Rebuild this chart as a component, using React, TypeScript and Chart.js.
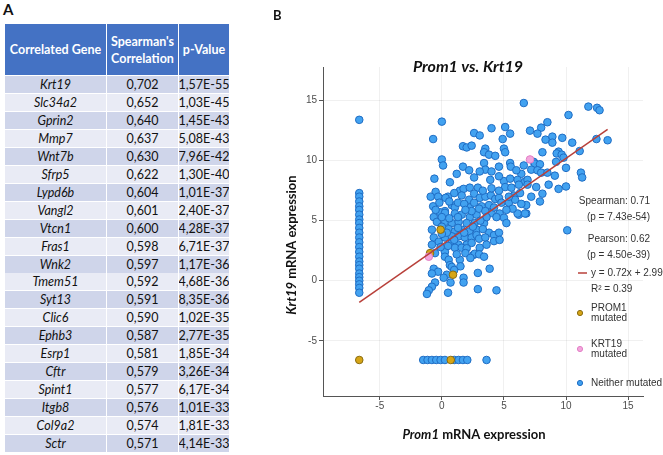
import React, { useEffect, useRef } from "react";
import { Chart, registerables } from "chart.js";
Chart.register(...registerables);

// ---------- Panel A data ----------
const genes = ["Krt19", "Slc34a2", "Gprin2", "Mmp7", "Wnt7b", "Sfrp5", "Lypd6b", "Vangl2", "Vtcn1", "Fras1", "Wnk2", "Tmem51", "Syt13", "Clic6", "Ephb3", "Esrp1", "Cftr", "Spint1", "Itgb8", "Col9a2", "Sctr"];
const spearmanValues = ["0,702", "0,652", "0,640", "0,637", "0,630", "0,622", "0,604", "0,601", "0,600", "0,598", "0,597", "0,592", "0,591", "0,590", "0,587", "0,581", "0,579", "0,577", "0,576", "0,574", "0,571"];
const pValues = ["1,57E-55", "1,03E-45", "1,45E-43", "5,08E-43", "7,96E-42", "1,30E-40", "1,01E-37", "2,40E-37", "4,28E-37", "6,71E-37", "1,17E-36", "4,68E-36", "8,35E-36", "1,02E-35", "2,77E-35", "1,85E-34", "3,26E-34", "6,17E-34", "1,01E-33", "1,81E-33", "4,14E-33"];
const tableHeaders = ["Correlated Gene", "Spearman's\nCorrelation", "p-Value"];

// ---------- Panel B data ----------
const neitherColumn: [number, number][] = [
  [-6.65, 13.4], [-6.65, 7.3], [-6.65, 7.0], [-6.65, 6.6], [-6.65, 6.2], [-6.65, 5.9], [-6.65, 5.5], [-6.65, 5.1],
  [-6.65, 4.8], [-6.65, 4.4], [-6.65, 4.0], [-6.65, 3.6], [-6.65, 3.2], [-6.65, 2.8], [-6.65, 2.4], [-6.65, 2.0],
  [-6.65, 1.6], [-6.65, 1.3], [-6.65, 1.0], [-6.65, 0.6], [-6.65, 0.3], [-6.65, 0.0], [-6.65, -0.3], [-6.65, -0.6], [-6.65, -1.0],
];
const neitherFloor: [number, number][] = [
  [-1.5, -6.6], [-1.15, -6.6], [-0.8, -6.6], [-0.45, -6.6], [-0.1, -6.6], [0.25, -6.6], [1.0, -6.6],
  [1.35, -6.6], [1.7, -6.6], [2.05, -6.6], [3.6, -6.6],
];
const neitherCloud: [number, number][] = [
  [6.6, 14.8], [0, 13.25], [-0.7, 11.8], [2.6, 12.3], [3.05, 12.1], [4.0, 12.7], [5.1, 12.8], [5.5, 12.25], [4.9, 11.8],
  [7.1, 12.5], [1.7, 11.2], [2.0, 11.1], [2.4, 11.25], [3.5, 11.0], [3.4, 10.7], [3.8, 10.5], [4.3, 10.4], [5.0, 11.0],
  [5.1, 10.7], [0, 10.1], [0.1, 9.6], [1.7, 9.5], [3.4, 9.8], [3.5, 9.25], [4.0, 9.1], [3.05, 9.1], [5.5, 9.8], [5.55, 9.5],
  [6.4, 8.9], [-0.6, 8.5], [0.65, 8.2], [3.9, 8.4], [5.0, 8.3], [5.5, 8.5], [6.1, 8.4], [6.7, 8.25], [5.1, 7.8], [5.6, 7.75],
  [6.2, 8.0], [-0.5, 7.4], [-0.9, 7.0], [-0.3, 7.0], [1.45, 7.5], [1.75, 7.65], [2.25, 7.75], [2.9, 7.75], [1.6, 7.1],
  [2.2, 6.75], [2.6, 7.25], [3.05, 6.9], [3.5, 7.0], [3.95, 7.1], [4.3, 6.8], [4.6, 6.9], [5.8, 7.1], [6.3, 7.3], [4.8, 6.5],
  [5.4, 6.5], [-0.7, 6.2], [0.25, 5.8], [0.8, 6.3], [1.05, 6.1], [2.25, 6.1], [3.2, 6.2], [3.8, 6.3], [6.8, 6.3], [5.9, 6.75],
  [-0.65, 5.3], [-0.15, 5.7], [0.25, 5.65], [1.05, 5.6], [1.6, 5.5], [2.25, 5.3], [2.8, 5.5], [4.0, 5.65], [4.65, 5.6],
  [5.0, 5.25], [5.2, 4.8], [6.2, 5.5], [6.8, 5.6], [-0.4, 4.9], [0.25, 4.9], [0.8, 4.8], [1.35, 4.9], [2.0, 4.8], [2.65, 4.8],
  [3.4, 4.8], [-0.8, 4.25], [0.55, 4.3], [1.05, 4.1], [1.6, 4.25], [2.2, 4.1], [2.8, 4.25], [3.8, 4.0], [4.2, 3.8], [4.6, 4.0],
  [4.2, 3.3], [4.65, 3.4], [-0.65, 3.6], [-0.25, 3.25], [-0.8, 3.0], [0.25, 3.6], [0.8, 3.7], [1.35, 3.7], [1.85, 3.6],
  [2.4, 3.6], [2.8, 3.8], [0.8, 3.15], [1.35, 3.0], [2.0, 3.0], [2.4, 3.15], [1.05, 2.75], [1.6, 2.75], [2.0, 2.7], [3.05, 2.75],
  [-0.55, 2.3], [0.25, 2.4], [0.25, 2.0], [0.55, 1.75], [0.65, 1.3], [1.45, 1.75], [2.55, 2.15], [2.65, 2.25], [0.8, 1.15],
  [-0.65, 1.0], [-0.3, 0.75], [-0.8, 0.6], [0.4, 0.5], [0.15, 0.25], [2.9, 0.65], [3.85, 1.0], [-0.55, -0.15], [-0.8, -0.5],
  [-1.05, -0.8], [-1.2, -1.1], [0.7, -0.15], [1.75, 0.25], [1.75, -0.15], [0.5, -1.0], [2.9, -0.7], [4.4, -0.8],
  [11.8, 14.5], [12.5, 14.4], [12.7, 14.2], [10.2, 13.8], [8.5, 13.2], [8.0, 12.75], [7.7, 12.25], [8.9, 12.0], [8.35, 11.75],
  [8.9, 11.5], [9.7, 11.9], [10.5, 11.5], [12.45, 11.8], [13.35, 11.7], [11.1, 10.8], [9.4, 10.75], [9.25, 10.6], [9.65, 10.5],
  [8.1, 10.7], [9.8, 10.25], [9.2, 9.9], [7.4, 9.9], [7.5, 9.75], [7.9, 9.7], [7.2, 9.25], [7.7, 9.2], [8.0, 9.0], [10.0, 9.4],
  [8.5, 9.0], [9.1, 8.75], [11.2, 9.0], [11.3, 8.6], [6.9, 8.4], [6.9, 8.0], [8.6, 8.0], [9.4, 7.65], [10.0, 7.85], [8.1, 7.25],
  [7.9, 6.6], [6.7, 5.6], [6.1, 5.6], [10.1, 4.2],
  // densely overlapping core
  [0.5, 7.0], [1.0, 7.3], [0.3, 6.9], [-0.2, 6.5], [0.6, 6.6], [1.3, 6.5], [1.8, 6.4], [2.6, 6.5], [3.0, 6.0], [3.5, 5.8],
  [4.2, 6.1], [4.4, 5.3], [3.6, 5.3], [3.1, 5.0], [2.4, 5.8], [1.9, 5.9], [1.3, 5.3], [0.6, 5.2], [0.0, 5.3], [-0.5, 5.9],
  [0.0, 4.5], [0.4, 4.0], [1.3, 4.4], [1.8, 4.0], [2.5, 4.5], [3.3, 4.3], [3.0, 3.5], [3.5, 3.6], [3.6, 3.0], [1.0, 3.4],
  [0.5, 2.9], [-0.1, 2.8], [0.0, 3.9], [1.9, 2.3], [1.2, 2.2], [2.3, 1.9], [3.0, 2.2], [3.4, 2.0], [1.0, 0.9], [1.5, 1.2],
  [5.7, 6.0], [5.4, 7.0], [4.6, 7.5], [4.0, 7.7], [3.3, 7.5], [5.2, 5.9], [6.4, 6.4], [7.2, 7.0], [7.6, 7.8], [6.0, 9.2],
  [6.6, 9.6], [4.6, 9.5], [4.6, 8.7], [2.6, 8.6], [2.2, 9.2], [1.2, 8.9],
];
const prom1Mutated: [number, number][] = [[-6.65, -6.6], [-0.1, 4.25], [-0.95, 2.3], [0.9, 0.5], [0.72, -6.6]];
const krt19Mutated: [number, number][] = [[7.1, 10.1], [-1.05, 2.0]];
const regressionLine: [number, number][] = [[-6.65, -1.8], [13.35, 12.6]];

const xTicks = [-5, 0, 5, 10, 15];
const yTicks = [-5, 0, 5, 10, 15];
const xRange = [-9.57, 16.2];
const yRange = [-9.6, 17.8];

const statLines = ["Spearman: 0.71", "(p = 7.43e-54)", "Pearson: 0.62", "(p = 4.50e-39)"];
const fitLines = ["y = 0.72x + 2.99", "R\u00b2 = 0.39"];
const legendGroups = [
  { lines: ["PROM1", "mutated"], fill: "#d6a516", stroke: "#8a6c10" },
  { lines: ["KRT19", "mutated"], fill: "#f3a6dc", stroke: "#e27fc6" },
  { lines: ["Neither mutated"], fill: "#40a0ef", stroke: "#1f6dc4" },
];

const BLUE = { fill: "#42a2f0", stroke: "#1f6dc4" };
const GOLD = { fill: "#d6a516", stroke: "#8a6c10" };
const PINK = { fill: "#f3a6dc", stroke: "#e27fc6" };
const LINE_RED = "#b8403a";

const toPts = (arr: [number, number][]) => arr.map(([x, y]) => ({ x, y }));

const SANS = "'Liberation Sans', Arial, sans-serif";
const CAL = "Lato, 'Open Sans', sans-serif";

function drawMixed(ctx: CanvasRenderingContext2D, segs: { t: string; f: string }[], cx: number, cy: number) {
  let total = 0;
  for (const s of segs) { ctx.font = s.f; total += ctx.measureText(s.t).width; }
  let x = cx - total / 2;
  ctx.textAlign = "left";
  ctx.textBaseline = "middle";
  for (const s of segs) { ctx.font = s.f; ctx.fillText(s.t, x, cy); x += ctx.measureText(s.t).width; }
}

const annotate = {
  id: "annotate",
  afterDraw(chart: any) {
    const ctx: CanvasRenderingContext2D = chart.ctx;
    ctx.save();
    ctx.fillStyle = "#111";
    ctx.font = `bold 13px ${CAL}`;
    ctx.textAlign = "left";
    ctx.textBaseline = "middle";
    ctx.fillText("B", 33, 16);
    drawMixed(ctx, [{ t: "Prom1 vs. Krt19", f: `italic bold 16px ${CAL}` }], 228, 67);
    drawMixed(ctx, [{ t: "Prom1", f: `italic bold 13px ${CAL}` }, { t: " mRNA expression", f: `bold 13px ${CAL}` }], 234, 435);
    ctx.save();
    ctx.translate(52, 245);
    ctx.rotate(-Math.PI / 2);
    drawMixed(ctx, [{ t: "Krt19", f: `italic bold 13px ${CAL}` }, { t: " mRNA expression", f: `bold 13px ${CAL}` }], 0, 0);
    ctx.restore();
    ctx.fillStyle = "#333";
    ctx.font = `10px ${SANS}`;
    ctx.textBaseline = "middle";
    ctx.textAlign = "right";
    const statY = [201, 217, 239, 255];
    statLines.forEach((s, i) => ctx.fillText(s, 410, statY[i]));
    ctx.textAlign = "left";
    ctx.strokeStyle = LINE_RED;
    ctx.lineWidth = 1.5;
    ctx.beginPath();
    ctx.moveTo(338, 273);
    ctx.lineTo(347, 273);
    ctx.stroke();
    ctx.fillText(fitLines[0], 351, 273);
    ctx.fillText(fitLines[1], 351, 289);
    const groupY = [313, 349, 383];
    legendGroups.forEach((g, i) => {
      const y = groupY[i];
      ctx.beginPath();
      ctx.arc(340, y, 2.6, 0, Math.PI * 2);
      ctx.fillStyle = g.fill;
      ctx.fill();
      ctx.strokeStyle = g.stroke;
      ctx.lineWidth = 1;
      ctx.stroke();
      ctx.fillStyle = "#333";
      if (g.lines.length === 2) {
        ctx.fillText(g.lines[0], 351, y - 4.5);
        ctx.fillText(g.lines[1], 351, y + 5.5);
      } else {
        ctx.fillText(g.lines[0], 351, y);
      }
    });
    ctx.restore();
  },
};

function ScatterPanel() {
  const ref = useRef<HTMLCanvasElement | null>(null);
  useEffect(() => {
    if (!ref.current) return;
    const pointDs = (label: string, data: [number, number][], c: { fill: string; stroke: string }) => ({
      label,
      data: toPts(data),
      backgroundColor: c.fill,
      borderColor: c.stroke,
      borderWidth: 1,
      pointRadius: 3.8,
      showLine: false,
    });
    const chart = new Chart(ref.current, {
      type: "scatter",
      data: {
        datasets: [
          {
            label: "fit",
            data: toPts(regressionLine),
            showLine: true,
            borderColor: LINE_RED,
            borderWidth: 1.5,
            pointRadius: 0,
            fill: false,
          } as any,
          pointDs("KRT19 mutated", krt19Mutated, PINK),
          pointDs("PROM1 mutated", prom1Mutated, GOLD),
          pointDs("Neither mutated", [...neitherColumn, ...neitherFloor, ...neitherCloud], BLUE),
        ],
      },
      options: {
        responsive: false,
        animation: false,
        layout: { padding: { top: 67, right: 20, left: 0, bottom: 0 } },
        plugins: { legend: { display: false }, title: { display: false }, tooltip: { enabled: false } },
        events: [],
        scales: {
          x: {
            type: "linear",
            min: xRange[0],
            max: xRange[1],
            afterFit: (s: any) => { s.height = 59; },
            afterBuildTicks: (s: any) => { s.ticks = xTicks.map((v) => ({ value: v })); },
            grid: { color: "rgba(0,0,0,0.06)", tickColor: "#555", tickLength: 4, drawOnChartArea: true },
            border: { color: "#555", width: 1 },
            ticks: { color: "#4d4d4d", font: { family: SANS, size: 10 }, padding: 0, maxRotation: 0 },
          },
          y: {
            type: "linear",
            min: yRange[0],
            max: yRange[1],
            afterFit: (s: any) => { s.width = 83; },
            afterBuildTicks: (s: any) => { s.ticks = yTicks.map((v) => ({ value: v })); },
            grid: { color: "rgba(0,0,0,0.06)", tickColor: "#555", tickLength: 4 },
            border: { color: "#555", width: 1 },
            ticks: { color: "#4d4d4d", font: { family: SANS, size: 10 }, padding: 2 },
          },
        },
      },
      plugins: [annotate],
    });
    return () => chart.destroy();
  }, []);
  return (
    <canvas ref={ref} width={423} height={455} style={{ position: "absolute", left: 240, top: 0, width: 423, height: 455 }} />
  );
}

const colLeft = [5, 107, 179];
const colWidth = [101, 71, 50];
const ROW_TOP = 76;
const ROW_STEP = 17.95;

function TablePanel() {
  const cells: React.ReactNode[] = [];
  tableHeaders.forEach((h, c) => {
    cells.push(
      <div key={"h" + c} style={{
        position: "absolute", left: colLeft[c], top: 24, width: colWidth[c], height: 51, background: "#4472c4",
        color: "#fff", fontWeight: 700, fontSize: 12.5, lineHeight: "17px", fontFamily: CAL,
        display: "flex", alignItems: "center", justifyContent: "center", textAlign: "center", whiteSpace: "pre",
      }}>{h}</div>
    );
  });
  genes.forEach((g, r) => {
    const vals = [g, spearmanValues[r], pValues[r]];
    vals.forEach((v, c) => {
      cells.push(
        <div key={r + "-" + c} style={{
          position: "absolute", left: colLeft[c], top: ROW_TOP + r * ROW_STEP, width: colWidth[c], height: 17,
          background: r % 2 === 0 ? "#cfd5ea" : "#e9ebf5", color: "#111", fontFamily: CAL, fontSize: 12.5,
          fontStyle: c === 0 ? "italic" : "normal", display: "flex", alignItems: "center", justifyContent: "center",
          whiteSpace: "nowrap", overflow: "hidden",
        }}>{v}</div>
      );
    });
  });
  return (
    <>
      <div style={{ position: "absolute", left: 3, top: 2, fontFamily: CAL, fontWeight: 700, fontSize: 15, color: "#111", lineHeight: "15px" }}>A</div>
      {cells}
    </>
  );
}

export default function App() {
  return (
    <div style={{ position: "absolute", left: 0, top: 0, width: 663, height: 455, background: "#fff", overflow: "hidden" }}>
      <TablePanel />
      <ScatterPanel />
    </div>
  );
}
